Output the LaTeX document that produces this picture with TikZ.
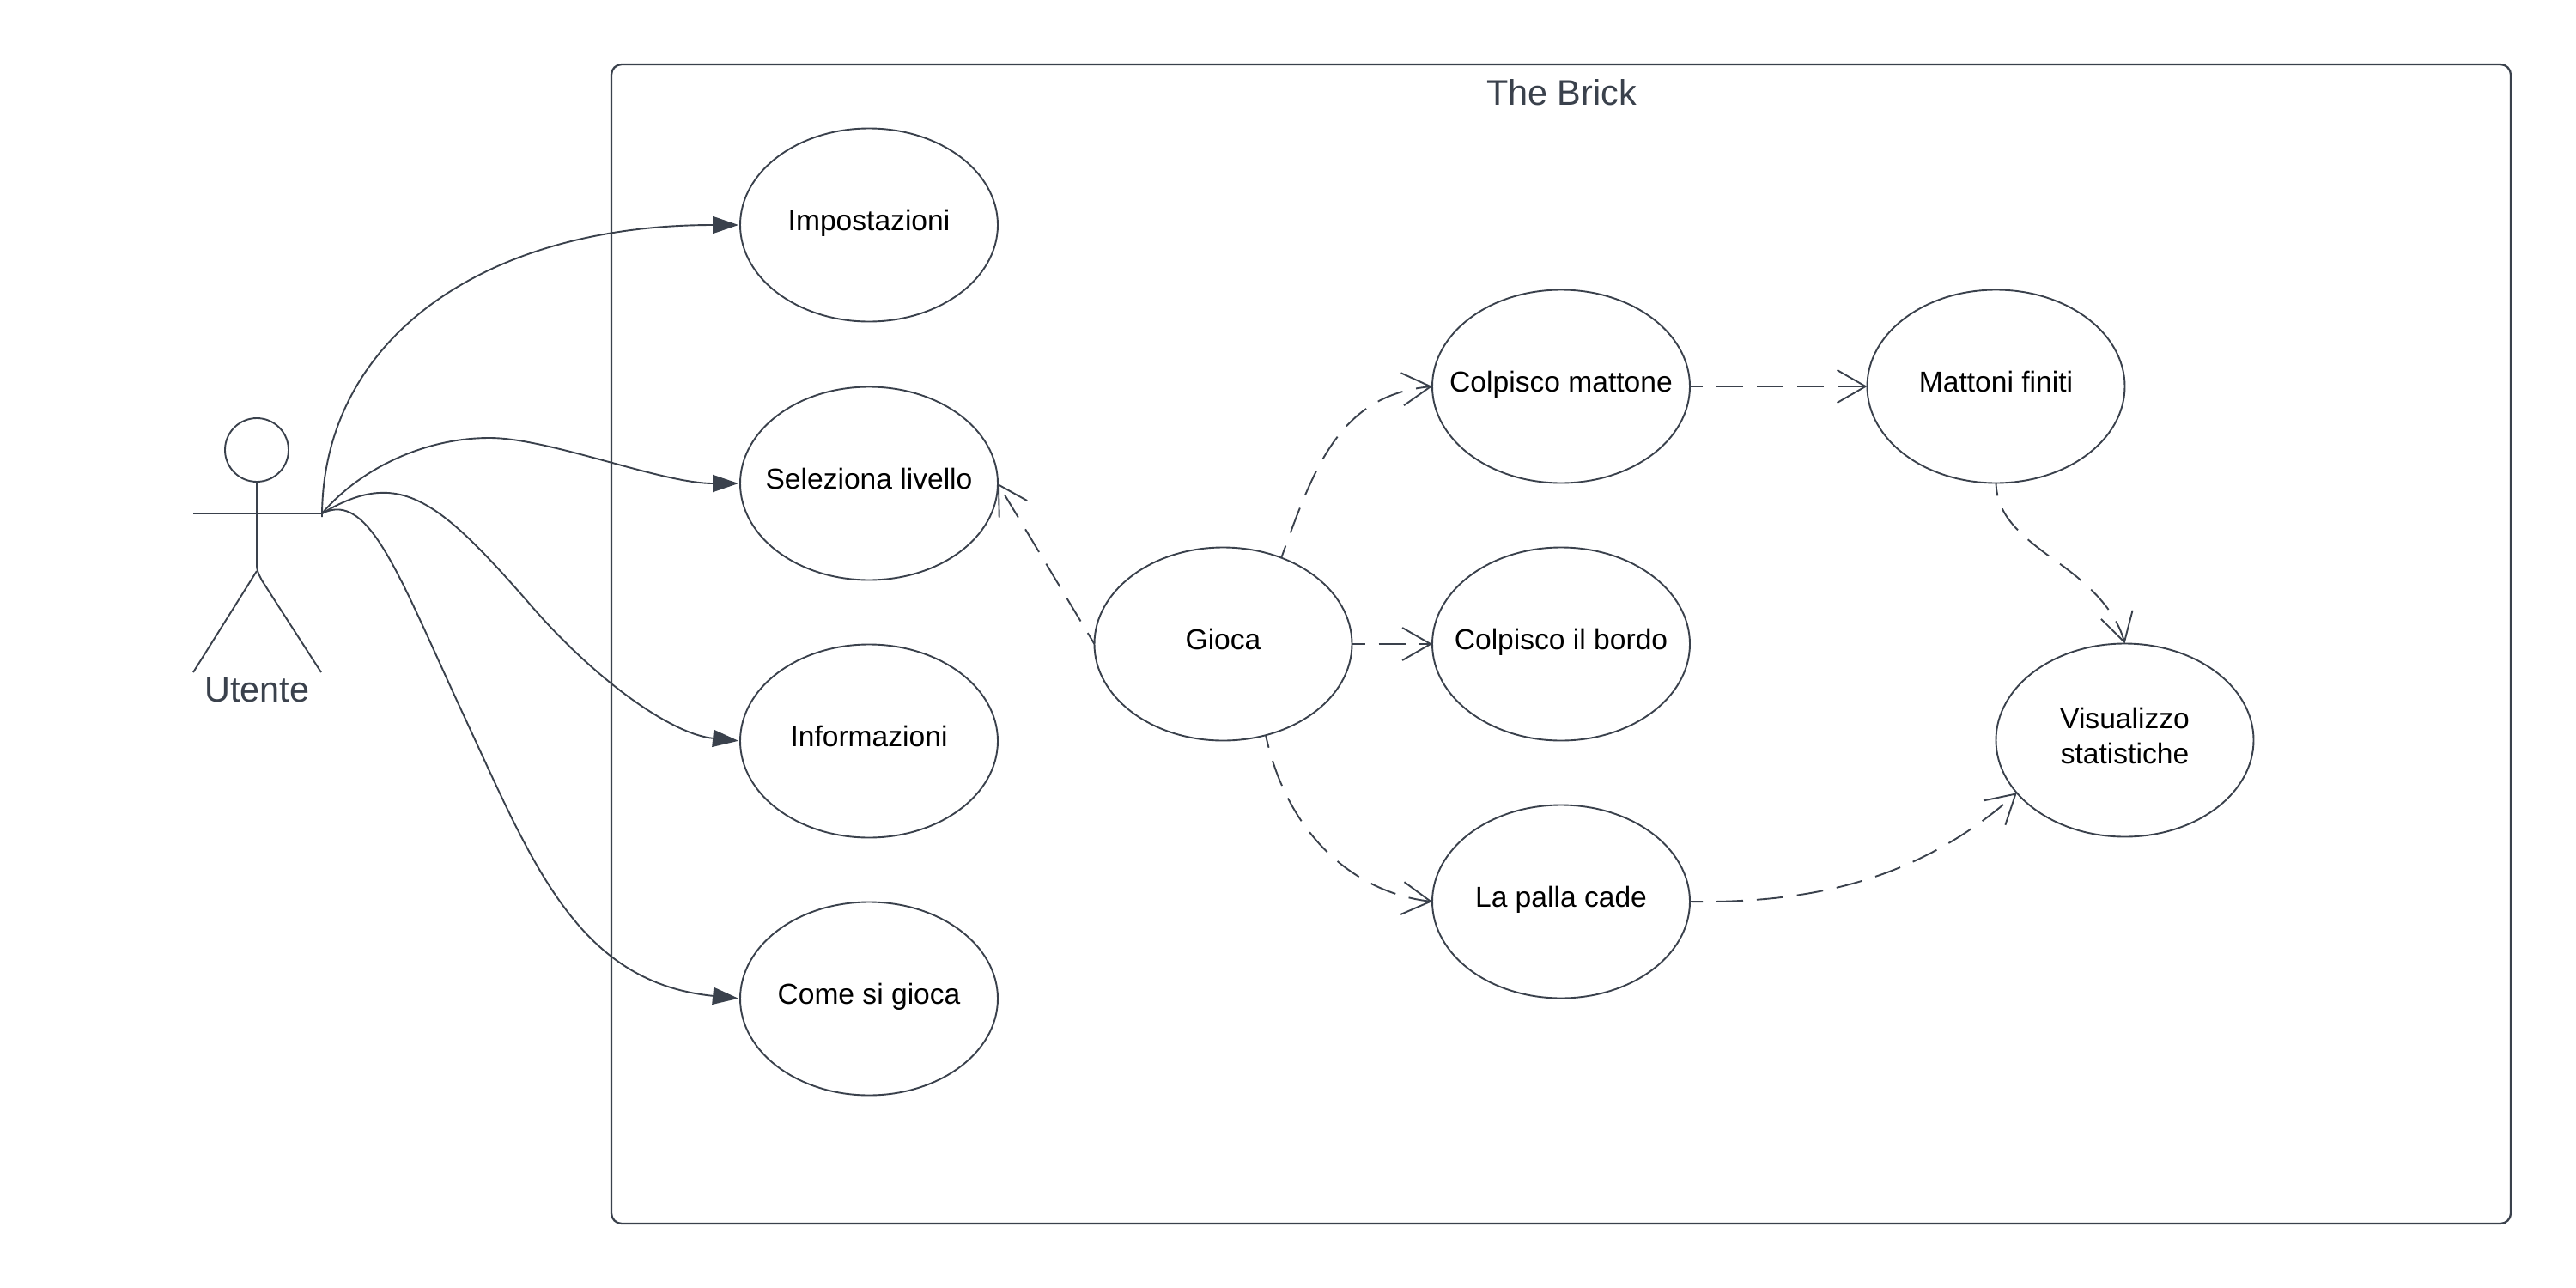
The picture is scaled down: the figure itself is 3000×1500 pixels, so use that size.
\documentclass[tikz,border=0pt]{standalone}
\usepackage{fontspec}
\setmainfont{Liberation Sans}
\usetikzlibrary{shapes.geometric,arrows.meta}
\definecolor{ink}{HTML}{3A414C}
\tikzset{
  usecasebase/.style={draw=ink,line width=0.95pt,ellipse,minimum width=150pt,minimum height=112.5pt,inner ysep=0pt,inner xsep=-40pt,outer sep=0pt,
    font=\fontsize{16.8}{20.5}\selectfont,text=black},
  usecase/.style={usecasebase,text height=12pt,text depth=5.5pt},
  usecasetwo/.style={usecasebase,align=center,inner xsep=-20pt},
  solidlink/.style={draw=ink,line width=0.95pt,shorten >=1pt,-{Triangle[length=15pt,width=10pt,fill=ink]}},
  dashlink/.style={draw=ink,line width=0.95pt,dash pattern=on 15.5pt off 8pt,dash phase=8pt,
    -{Straight Barb[length=16.5pt,width=19pt,line width=0.95pt]}},
  actorline/.style={draw=ink,line width=0.95pt},
  big/.style={font=\fontsize{20.7}{24}\selectfont,text=ink,inner sep=0pt,text height=15pt,text depth=0pt}
}
\begin{document}
\begin{tikzpicture}[x=0.5pt,y=-0.5pt]
\useasboundingbox[fill=white] (0,0) rectangle (3000,1500);
\node[draw=ink,line width=1.15pt,rounded corners=6pt,minimum width=1106pt,minimum height=675pt,inner sep=0pt,outer sep=0pt] (frame) at (1818,750) {};
\node[big] (title) at (1818.5,107.7) {The Brick};

% actor
\node[draw=ink,line width=0.95pt,circle,minimum size=37pt,inner sep=0pt,outer sep=0pt] (head) at (299,524) {};
\coordinate (handL) at (225,598);
\coordinate (handR) at (375,598);
\coordinate (handB) at (375,602);
\coordinate (hip) at (299,657);
\coordinate (footL) at (225,783);
\coordinate (footR) at (374,783);
\draw[actorline] (handL) -- (handR);
\draw[actorline] (head.south) -- (hip);
\draw[actorline] (299,665) -- (footL);
\draw[actorline] (hip) .. controls (299,665) and (301,668) .. (305,676) -- (footR);
\node[big] (utente) at (299.5,802) {Utente};

% use cases
\node[usecase] (impost) at (1012,262) {Impostazioni};
\node[usecase] (sel) at (1012,563) {Seleziona livello};
\node[usecase] (info) at (1012,863) {Informazioni};
\node[usecase] (come) at (1012,1163) {Come si gioca};
\node[usecase] (gioca) at (1424.5,750) {Gioca};
\node[usecase] (mattone) at (1818,450) {Colpisco mattone};
\node[usecase] (bordo) at (1818,750) {Colpisco il bordo};
\node[usecase] (palla) at (1818,1050) {La palla cade};
\node[usecase] (finiti) at (2324.5,450) {Mattoni finiti};
\node[usecasetwo] (stat) at (2474.5,862) {Visualizzo\\statistiche\rule[-5pt]{0pt}{0pt}};

% solid associations
\draw[solidlink] (handB) .. controls (375,397) and (560,262) .. (impost.west);
\draw[solidlink] (handR) .. controls (420,545) and (495,510) .. (570,510)
  .. controls (640,510) and (770,563) .. (sel.west);
\draw[solidlink] (handR) .. controls (465,544) and (510,580.5) .. (620,707)
  .. controls (695,793) and (782,855) .. (info.west);
\draw[solidlink] (handR) .. controls (430,570) and (465,672) .. (540,833)
  .. controls (620,1005) and (672,1144) .. (come.west);

% dashed dependencies
\draw[dashlink] (gioca.west) -- (sel.east);
\draw[dashlink] (gioca.56) .. controls (1530,545) and (1560,460) .. (mattone.west);
\draw[dashlink] (gioca.east) -- (bordo.west);
\draw[dashlink] (gioca.-65) .. controls (1500,975) and (1580,1040) .. (palla.west);
\draw[dashlink] (mattone.east) -- (finiti.west);
\draw[dashlink] (finiti.south) .. controls (2326,600) and (2350,622) .. (2398,656)
  .. controls (2440,686) and (2465,715) .. (stat.north);
\draw[dashlink] (palla.east) .. controls (2110,1052) and (2235,1025) .. (stat.206);
\end{tikzpicture}
\end{document}
